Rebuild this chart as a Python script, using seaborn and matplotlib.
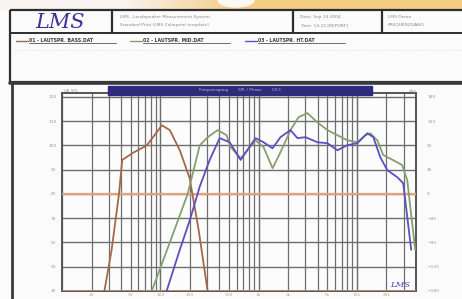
import numpy as np
import pandas as pd
import matplotlib
matplotlib.use("Agg")
import matplotlib.pyplot as plt
import seaborn as sns
from matplotlib.patches import Rectangle, Ellipse
from matplotlib.ticker import FixedLocator, LogLocator, NullFormatter

# ---------------- data ----------------
woofer_f = [27, 32, 38, 41, 53, 73, 104, 125, 158, 199, 246, 303]
woofer_db = [40, 57, 80, 94, 97, 100, 108.3, 106.3, 98, 86.5, 65, 40]

mid_f = [82, 125, 190, 252, 304, 384, 473, 520, 657, 932, 1124, 1388, 1671, 2113,
         2546, 3143, 3970, 5020, 6340, 8010, 10120, 12200, 13700, 16150, 18570,
         23470, 28970, 32580, 39260]
mid_db = [40, 60, 80, 100, 103.4, 106.3, 104.2, 99.3, 94.7, 102.1, 99.3, 90.6, 97.2,
          106.3, 111.6, 113.3, 109.5, 106.3, 104.2, 102.1, 101.3, 104.2, 105, 102.1,
          96, 93.9, 91.9, 85.7, 57]

tweet_f = [116, 158, 199, 252, 318, 402, 508, 657, 932, 1124, 1388, 1671, 2113, 2490,
           3000, 3970, 5020, 6340, 8010, 10120, 12780, 14720, 17340, 20420, 25780,
           29650, 35740]
tweet_db = [40, 57, 69, 83, 94, 103, 101.3, 94, 103, 101.3, 98.8, 103.4, 106.3, 103,
            103.4, 101.3, 100.9, 98, 100.1, 100.9, 105, 103.4, 95.1, 89.8, 86.9,
            84.4, 57]

series_names = ["01 - LAUTSPR. BASS.DAT", "02 - LAUTSPR. MID.DAT", "03 - LAUTSPR. HT.DAT"]
series_colors = ["#a5684a", "#86a070", "#5e4fc0"]

db_ticks = [40, 50, 60, 70, 80, 90, 100, 110, 120]
phase_ticks = [-180, -135, -90, -45, 0, 45, 90, 135, 180]
freq_ticks = [20, 50, 100, 200, 500, 1000, 2000, 5000, 10000, 20000]
freq_labels = ["20", "50", "100", "200", "500", "1k", "2k", "5k", "10k", "20k"]

header_cells = [
    ("LMS - Loudspeaker Measurement System", "Standard Print (LMS Colorprint template)"),
    ("Date: Sep 14 2004", "Time: 14:22 [REPORT]"),
    ("LMS Demo", "FREQUENZGANG"),
]

# ---------------- figure ----------------
sns.set_style("white")
plt.rcParams["font.family"] = ["DejaVu Sans"]

W, H = 462, 299
fig = plt.figure(figsize=(W / 100, H / 100), dpi=100)
fig.patch.set_facecolor("#fbfbfc")

bg = fig.add_axes([0, 0, 1, 1], zorder=0)
bg.set_xlim(0, W)
bg.set_ylim(H, 0)
bg.axis("off")

# photo background strip at the top
xs = np.linspace(0, 1, W)
c0 = np.array([0.97, 0.96, 0.95])
c1 = np.array([0.96, 0.80, 0.52])
t = np.clip((xs * W - 120) / 120, 0, 1)
strip = (c0[None, :] * (1 - t[:, None]) + c1[None, :] * t[:, None])[None, :, :]
bg.imshow(strip, extent=[0, W, 10, 0], aspect="auto", zorder=0)
bg.add_patch(Ellipse((236, 0), 36, 14, color="#fbf8f2", zorder=1))

# header table
dark = "#2e2e2e"
bg.add_patch(Rectangle((10, 10), W, 72, fill=False, lw=1.6, ec=dark, zorder=2))
bg.plot([10, W], [33, 33], color=dark, lw=1.4, zorder=2)
for xv in (112, 293, 382):
    bg.plot([xv, xv], [10, 33], color=dark, lw=1.6, zorder=2)
bg.plot([10, W], [83, 83], color="#3a3a3a", lw=2.6, zorder=2)
bg.plot([12, 12], [83, H], color="#3a3a3a", lw=2.0, zorder=2)
bg.plot([14, W], [50, 50], color="#d8d8d8", lw=0.6, ls=":", zorder=2)

bg.text(60, 22, "LMS", color="#3b3298", fontsize=15, fontstyle="italic",
        fontfamily="DejaVu Serif", ha="center", va="center", zorder=3)
for x0, (l1, l2) in zip((120, 300, 388), header_cells):
    bg.text(x0, 17, l1, fontsize=3.2, color="#8a8a7a", va="center", zorder=3)
    bg.text(x0, 25, l2, fontsize=3.2, color="#8a8a7a", va="center", zorder=3)

for x0, name, col in zip((16, 130, 245), series_names, series_colors):
    bg.plot([x0, x0 + 12], [41, 41], color=col, lw=1.0, zorder=3)
    bg.text(x0 + 13, 40, name, fontsize=3.3, fontweight="bold", color="#3a3a3a",
            va="center", zorder=3)
    bg.plot([x0 + 13, x0 + 100], [42.5, 42.5], color="#555555", lw=0.6, zorder=3)

# ---------------- plot ----------------
left, right, top, bottom = 62, 416, 93, 291
ax = fig.add_axes([left / W, (H - bottom) / H, (right - left) / W, (bottom - top) / H],
                  zorder=1)
ax.set_facecolor("#fcfcfc")

frames = []
for name, f, db in zip(series_names, (woofer_f, mid_f, tweet_f),
                       (woofer_db, mid_db, tweet_db)):
    frames.append(pd.DataFrame({"freq": f, "spl": db, "curve": name}))
df = pd.concat(frames, ignore_index=True)

ax.set_xscale("log")
sns.lineplot(data=df, x="freq", y="spl", hue="curve", palette=series_colors,
             sort=False, estimator=None, lw=1.3, legend=False, ax=ax, zorder=4)

ax.set_xlim(10, 40000)
ax.set_ylim(40, 121.6)
ax.xaxis.set_major_locator(FixedLocator([10, 100, 1000, 10000]))
ax.xaxis.set_minor_locator(LogLocator(base=10, subs=np.arange(2, 10), numticks=20))
ax.xaxis.set_minor_formatter(NullFormatter())
ax.set_xticks(freq_ticks, labels=freq_labels, minor=False)
ax.grid(True, which="both", axis="x", color="#6e6e6e", lw=0.9)
ax.set_yticks(db_ticks)
ax.grid(True, which="major", axis="y", color="#6e6e6e", lw=1.0)
ax.axvline(10, color="#6e6e6e", lw=0.9)
ax.axvline(100, color="#6e6e6e", lw=0.9)
ax.axvline(1000, color="#6e6e6e", lw=0.9)
ax.axvline(10000, color="#6e6e6e", lw=0.9)
ax.axhline(80, color="#e0a27a", lw=1.6, zorder=3)
ax.axhline(40, color="#b89a88", lw=1.2, zorder=3)

ax.tick_params(axis="y", labelsize=3.2, colors="#9a9a9a", length=0, pad=4)
ax.tick_params(axis="x", which="both", labelsize=3.2, colors="#d0a070", length=0, pad=1.5)
ax.set_xlabel("")
ax.set_ylabel("")
for s in ax.spines.values():
    s.set_color("#555555")
    s.set_linewidth(1.4)

ax2 = ax.twinx()
ax2.set_ylim(-180, 187.2)
ax2.set_yticks(phase_ticks)
ax2.tick_params(axis="y", labelsize=3.2, colors="#9a9a9a", length=0, pad=8)
for s in ax2.spines.values():
    s.set_visible(False)

# ---------------- overlay (title bar, small labels, logo) ----------------
fg = fig.add_axes([0, 0, 1, 1], zorder=5)
fg.set_xlim(0, W)
fg.set_ylim(H, 0)
fg.axis("off")
fg.patch.set_alpha(0)
fg.add_patch(Rectangle((108, 86), 264, 8.5, color="#2f2a7c", zorder=2))
fg.text(240, 90.3, "Frequenzgang        SPL / Phase        CH.1", fontsize=3.0,
        color="#b8b6d8", ha="center", va="center", zorder=3)
fg.text(64, 91, "dB SPL", fontsize=3.0, color="#9a9a9a", va="center")
fg.text(409, 91, "deg", fontsize=3.0, color="#9a9a9a", va="center")
fg.text(400, 285, "LMS", fontsize=6, color="#4b3fb0", fontstyle="italic",
        fontfamily="DejaVu Serif", ha="center", va="center")

fig.savefig("out.png", dpi=100, facecolor=fig.get_facecolor())
